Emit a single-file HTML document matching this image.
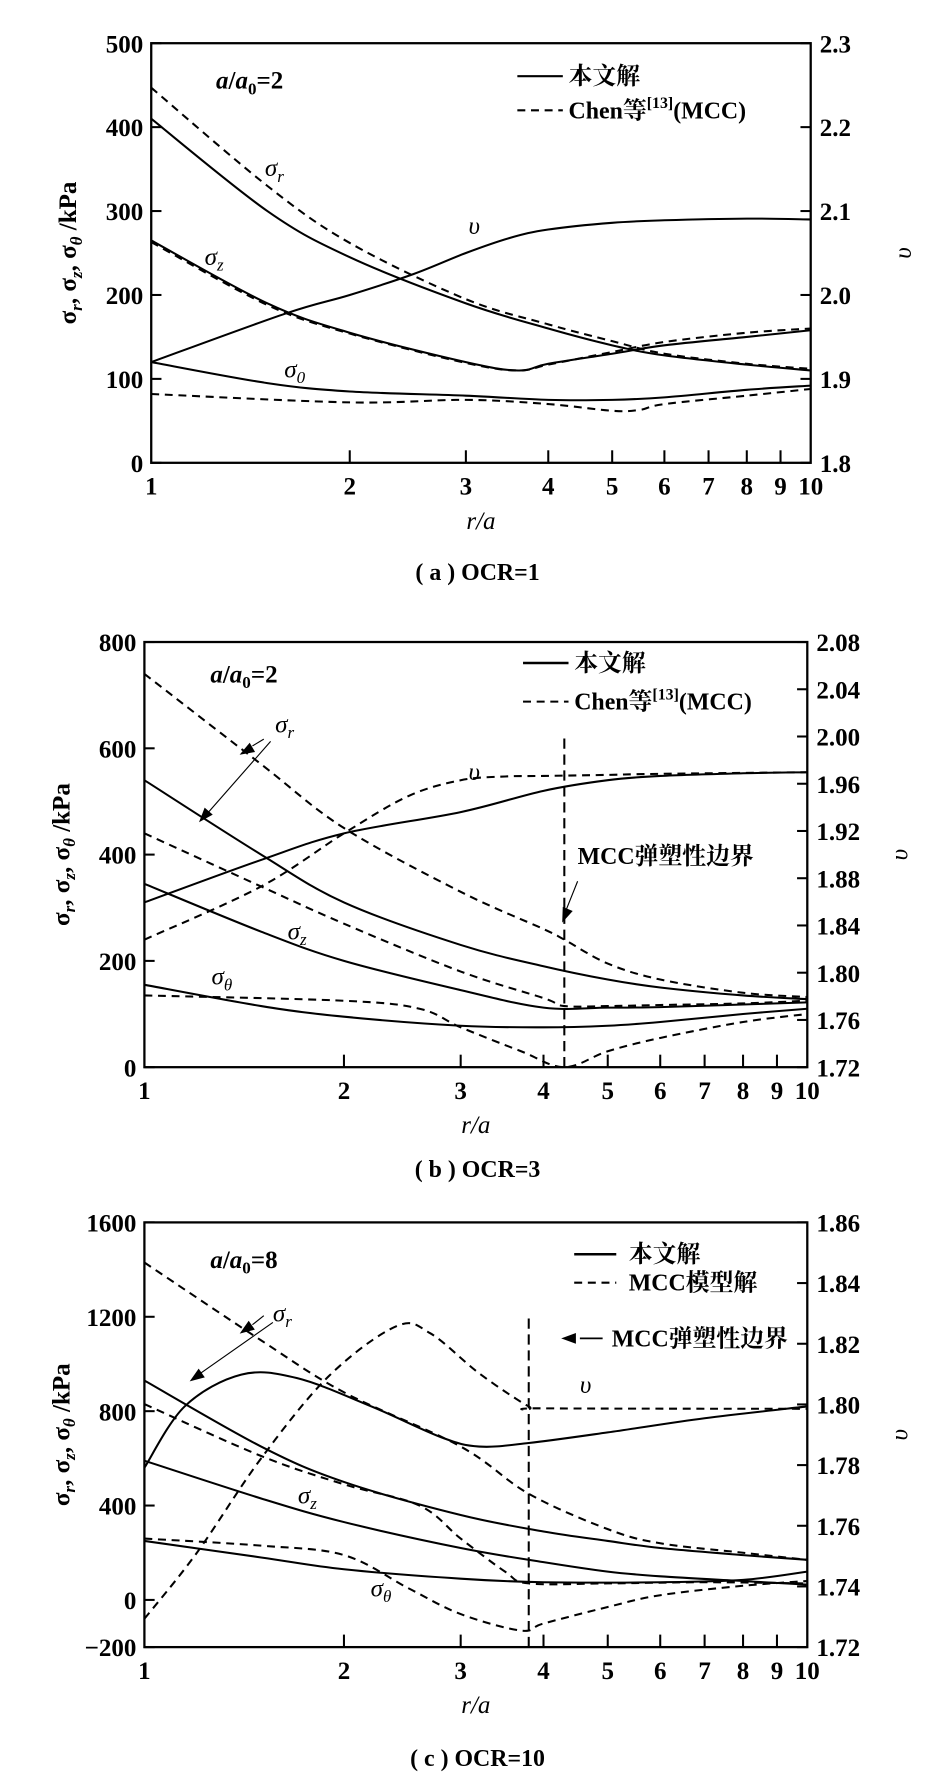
<!DOCTYPE html>
<html><head><meta charset="utf-8">
<style>
html,body{margin:0;padding:0;background:#fff;}
svg{display:block;}
text{fill:#000;}
.n{font-family:"Liberation Serif","Noto Serif CJK SC",serif;font-weight:bold;font-size:22px;}
.cj{font-family:"Liberation Serif","Noto Serif CJK SC",serif;font-weight:bold;font-size:21px;}
.it{font-family:"Liberation Serif",serif;font-style:italic;font-size:22px;}
</style></head>
<body>
<svg id="s" width="926" height="1783" viewBox="0 0 814.4 1568" preserveAspectRatio="none" xmlns="http://www.w3.org/2000/svg">
<g id="g" fill="none" stroke="#000" stroke-width="1.8"></g>
<g id="t"></g>
</svg>
<script>
const NS="http://www.w3.org/2000/svg";
const G=document.getElementById('g'),T=document.getElementById('t');
function el(p,tag,a,txt){const e=document.createElementNS(NS,tag);for(const k in a)e.setAttribute(k,a[k]);if(txt!==undefined)e.textContent=txt;p.appendChild(e);return e;}
function txt(x,y,s,cls,anchor,extra){const a={x:x,y:y,'class':cls,'text-anchor':anchor||'start'};Object.assign(a,extra||{});const e=el(T,'text',a);e.innerHTML=s;return e;}
function P(ax){return {X:v=>ax.x0+(ax.x1-ax.x0)*Math.log10(v),Y:v=>ax.y0+(ax.y1-ax.y0)*(v-ax.v0)/(ax.v1-ax.v0)};}
function curve(ax,pts,dash,w){const p=P(ax);const q=pts.map(a=>[p.X(a[0]),p.Y(a[1])]);let d='M'+q[0][0]+','+q[0][1];
for(let i=0;i<q.length-1;i++){const p0=q[i-1]||q[i],p1=q[i],p2=q[i+1],p3=q[i+2]||q[i+1];
const c1=[p1[0]+(p2[0]-p0[0])/6,p1[1]+(p2[1]-p0[1])/6],c2=[p2[0]-(p3[0]-p1[0])/6,p2[1]-(p3[1]-p1[1])/6];
d+=' C'+c1+' '+c2+' '+p2;}
const a={d:d};if(dash)a['stroke-dasharray']='7,5';if(w)a['stroke-width']=w;el(G,'path',a);}
function line(x1,y1,x2,y2,dash,w){const a={x1,y1,x2,y2};if(dash)a['stroke-dasharray']=dash;if(w)a['stroke-width']=w;el(G,'line',a);}
function axes(ax,lt,rt,rfmt){const p=P(ax);
el(G,'rect',{x:ax.x0,y:ax.y1,width:ax.x1-ax.x0,height:ax.y0-ax.y1,'stroke-width':2});
lt.forEach(v=>{const y=p.Y(v);line(ax.x0,y,ax.x0+9,y);txt(ax.x0-7,y+8,String(v).replace('-','−'),'n','end');});
const r=ax.rv;rt.forEach(v=>{const y=ax.y0+(ax.y1-ax.y0)*(v-r[0])/(r[1]-r[0]);line(ax.x1-9,y,ax.x1,y);txt(ax.x1+8,y+8,v.toFixed(rfmt),'n','start');});
for(let i=1;i<=10;i++){const x=p.X(i);if(i>1&&i<10)line(x,ax.y0,x,ax.y0-11);txt(x,ax.y0+28,String(i),'n','middle');}
txt((ax.x0+ax.x1)/2,ax.y0+58,'r/a','it','middle');
txt(0,0,'σ<tspan font-size="15" dy="5" font-style="italic">r</tspan><tspan dy="-5">, σ</tspan><tspan font-size="15" dy="5" font-style="italic">z</tspan><tspan dy="-5">, σ</tspan><tspan font-size="15" dy="5" font-style="italic">θ</tspan><tspan dy="-5"> /kPa</tspan>','n','middle',{transform:'translate('+(ax.x0-66)+','+((ax.y0+ax.y1)/2)+') rotate(-90)'});
txt(0,0,'υ','it','middle',{transform:'translate('+(ax.x1+88)+','+((ax.y0+ax.y1)/2)+') rotate(-90)'});
}
function sig(x,y,sub){txt(x,y,'σ<tspan font-size="15" dy="5">'+sub+'</tspan>','it');}
function arrowHead(x,y,ang){const a=ang*Math.PI/180,l=11,w=4;const bx=x-l*Math.cos(a),by=y-l*Math.sin(a);
el(G,'polygon',{points:x+','+y+' '+(bx-w*Math.sin(a))+','+(by+w*Math.cos(a))+' '+(bx+w*Math.sin(a))+','+(by-w*Math.cos(a)),fill:'#000','stroke-width':1});}

/* Panel a */
const A={x0:133,x1:713,y0:407,y1:38,v0:0,v1:500,rv:[1.8,2.3]};
axes(A,[0,100,200,300,400,500],[1.8,1.9,2.0,2.1,2.2,2.3],1);
curve(A,[[1,410],[1.5,300],[2,245],[3,190],[4,160],[5,140],[6,128],[8,117],[10,110]]);
curve(A,[[1,447],[1.5,330],[2,262],[3,195],[4,165],[5,145],[6,130],[8,118],[10,112]],1);
curve(A,[[1,265],[1.5,190],[2,155],[3,120],[3.6,110],[4,118],[5,130],[6,140],[8,150],[10,158]]);
curve(A,[[1,263],[1.5,188],[2,154],[3,119],[3.6,110],[4,117],[5,132],[6,144],[8,155],[10,160]],1);
curve(A,[[1,120],[1.5,95],[2,85],[3,80],[4,75],[5,75],[6,78],[8,87],[10,92]]);
curve(A,[[1,82],[2,72],[3,75],[4,70],[5,62],[5.5,63],[6,70],[8,80],[10,88]],1);
curve(A,[[1,120],[1.6,178],[2,200],[2.5,225],[3,250],[3.5,268],[4,278],[5,286],[6,289],[8,291],[10,290]]);
txt(190,78,'<tspan font-style="italic">a</tspan>/<tspan font-style="italic">a</tspan><tspan font-size="15" dy="5">0</tspan><tspan dy="-5">=2</tspan>','n');
line(455,67,495,67);txt(500,74,'本文解','cj');
line(455,97,495,97,'7,5');txt(500,104,'Chen等<tspan font-size="14" dy="-9">[13]</tspan><tspan dy="9">(MCC)</tspan>','cj');
sig(233,155,'r');txt(412,206,'υ','it');sig(180,233,'z');sig(250,332,'0');
txt(420,510,'( a ) OCR=1','cj','middle');

/* Panel b */
const B={x0:127,x1:710,y0:938.5,y1:564.6,v0:0,v1:800,rv:[1.72,2.08]};
axes(B,[0,200,400,600,800],[1.72,1.76,1.80,1.84,1.88,1.92,1.96,2.00,2.04,2.08],2);
curve(B,[[1,540],[1.5,400],[2,310],[3,230],[4,190],[5,165],[6,150],[8,135],[10,128]]);
curve(B,[[1,740],[1.5,570],[2,450],[3,330],[4,260],[4.3,240],[5,195],[6,165],[8,140],[10,132]],1);
curve(B,[[1,345],[1.5,255],[2,200],[3,145],[4,112],[5,112],[6,113],[8,118],[10,122]]);
curve(B,[[1,440],[1.5,340],[2,270],[3,180],[4,130],[4.3,115],[5,115],[6,117],[8,120],[10,125]],1);
curve(B,[[1,155],[1.5,115],[2,95],[3,78],[4,75],[5,78],[6,85],[8,100],[10,110]]);
curve(B,[[1,135],[2,125],[2.6,110],[3,75],[3.7,30],[4.3,0],[5,30],[6,55],[8,85],[10,100]],1);
curve(B,[[1,310],[1.5,390],[2,440],[3,480],[4,520],[5,540],[6,548],[8,553],[10,555]]);
curve(B,[[1,240],[1.5,340],[2,440],[2.5,510],[3,540],[3.5,547],[4,548],[5,550],[6,552],[10,555]],1);
{const p=P(B);const x=p.X(4.3);line(x,938.5,x,645,'9,5');}
txt(185,600,'<tspan font-style="italic">a</tspan>/<tspan font-style="italic">a</tspan><tspan font-size="15" dy="5">0</tspan><tspan dy="-5">=2</tspan>','n');
line(460,583,500,583,null,2.2);txt(505,590,'本文解','cj');
line(460,617,500,617,'7,5');txt(505,624,'Chen等<tspan font-size="14" dy="-9">[13]</tspan><tspan dy="9">(MCC)</tspan>','cj');
txt(508,760,'MCC弹塑性边界','cj');line(508,775,498,800,null,1);arrowHead(495,810,112);
line(238,652,180,718,null,1);arrowHead(176,722,131);line(232,650,222,656,null,1);arrowHead(212,663,150);
sig(242,644,'r');txt(412,686,'υ','it');sig(253,826,'z');sig(186,866,'θ');
txt(420,1035,'( b ) OCR=3','cj','middle');

/* Panel c */
const C={x0:127,x1:710,y0:1448.5,y1:1075,v0:-200,v1:1600,rv:[1.72,1.86]};
axes(C,[-200,0,400,800,1200,1600],[1.72,1.74,1.76,1.78,1.80,1.82,1.84,1.86],2);
curve(C,[[1,930],[1.5,650],[2,500],[3,360],[4,290],[5,250],[6,220],[8,190],[10,170]]);
curve(C,[[1,1430],[1.5,1100],[2,880],[3,650],[3.8,450],[5,300],[6,240],[8,200],[10,170]],1);
curve(C,[[1,590],[1.5,430],[2,330],[3,220],[4,160],[5,120],[6,100],[8,80],[10,65]]);
curve(C,[[1,830],[1.5,610],[2,490],[2.6,400],[3,260],[3.5,120],[3.8,70],[5,70],[7,75],[10,70]],1);
curve(C,[[1,250],[1.5,180],[2,130],[3,90],[4,75],[6,75],[8,85],[10,120]]);
curve(C,[[1,260],[1.5,230],[2,190],[2.5,50],[3,-60],[3.7,-130],[4,-100],[5,-30],[6,20],[8,60],[10,80]],1);
curve(C,[[1,560],[1.15,820],[1.4,955],[1.7,940],[2.2,820],[2.8,690],[3.2,650],[3.8,665],[5,710],[7,770],[10,820]]);
curve(C,[[1,-80],[1.2,200],[1.5,600],[1.9,950],[2.4,1160],[2.7,1130],[3.2,960],[3.8,820],[4,812],[10,810]],1);
{const p=P(C);const x=p.X(3.8);line(x,1448.5,x,1155,'9,5');}
txt(185,1115,'<tspan font-style="italic">a</tspan>/<tspan font-style="italic">a</tspan><tspan font-size="15" dy="5">0</tspan><tspan dy="-5">=8</tspan>','n');
line(505,1103,542,1103,null,2.2);txt(553,1110,'本文解','cj');
line(505,1128,542,1128,'7,5');txt(553,1135,'MCC模型解','cj');
line(510,1177,530,1177,null,1.5);arrowHead(495,1177,180);txt(538,1184,'MCC弹塑性边界','cj');
line(240,1163,173,1210,null,1);arrowHead(168,1214,145);line(232,1157,222,1165,null,1);arrowHead(212,1172,145);
sig(240,1162,'r');txt(510,1225,'υ','it');sig(262,1322,'z');sig(326,1404,'θ');
txt(420,1553,'( c ) OCR=10','cj','middle');
</script>
</body></html>
